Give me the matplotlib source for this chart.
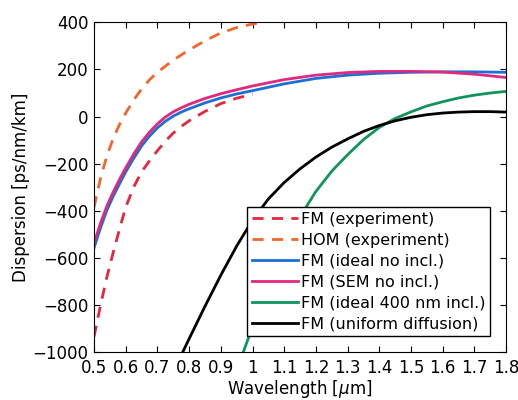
import numpy as np
import matplotlib.pyplot as plt

# wavelength [um] / dispersion [ps/nm/km]
wl_fm_exp = [0.5, 0.52, 0.54, 0.56, 0.58, 0.6, 0.625, 0.65, 0.675, 0.7, 0.725,
             0.75, 0.775, 0.8, 0.85, 0.9, 0.95, 1.0]
d_fm_exp = [-935, -805, -685, -580, -480, -385, -300, -235, -188, -145, -105,
            -70, -42, -18, 22, 55, 78, 95]

wl_hom_exp = [0.5, 0.52, 0.54, 0.56, 0.58, 0.6, 0.625, 0.65, 0.675, 0.7, 0.75,
              0.8, 0.85, 0.9, 0.95, 1.0, 1.02]
d_hom_exp = [-385, -265, -170, -95, -35, 15, 70, 117, 156, 188, 240,
             283, 322, 355, 378, 393, 398]

wl_sim = [0.5, 0.52, 0.54, 0.56, 0.58, 0.6, 0.625, 0.65, 0.675, 0.7, 0.725,
          0.75, 0.775, 0.8, 0.85, 0.9, 0.95, 1.0, 1.1, 1.2, 1.3, 1.4, 1.5,
          1.6, 1.7, 1.8]
d_ideal = [-558, -475, -400, -340, -287, -235, -178, -125, -83, -48, -20,
           2, 19, 33, 58, 79, 96, 110, 139, 162, 176, 184, 188,
           190, 190, 188]
d_sem = [-537, -455, -382, -322, -268, -218, -160, -108, -66, -31, -2,
         20, 37, 52, 77, 97, 114, 130, 157, 176, 187, 192, 192,
         189, 180, 166]

wl_incl = [0.971, 1.0, 1.05, 1.1, 1.15, 1.2, 1.25, 1.3, 1.35, 1.4, 1.45,
           1.5, 1.55, 1.6, 1.65, 1.7, 1.75, 1.8]
d_incl = [-1000, -893, -722, -565, -425, -318, -232, -162, -98, -46, -8,
          20, 45, 63, 79, 91, 100, 107]

wl_unif = [0.78, 0.8, 0.85, 0.9, 0.95, 1.0, 1.05, 1.1, 1.15, 1.2, 1.25, 1.3,
           1.35, 1.4, 1.45, 1.5, 1.55, 1.6, 1.65, 1.7, 1.75, 1.8]
d_unif = [-1000, -944, -806, -674, -550, -440, -350, -280, -222, -172, -130, -95,
          -63, -38, -18, -3, 8, 15, 19, 21, 21, 19]

xticks = [0.5, 0.6, 0.7, 0.8, 0.9, 1.0, 1.1, 1.2, 1.3, 1.4, 1.5, 1.6, 1.7, 1.8]
xticklabels = ['0.5', '0.6', '0.7', '0.8', '0.9', '1', '1.1', '1.2', '1.3',
               '1.4', '1.5', '1.6', '1.7', '1.8']
yticks = [-1000, -800, -600, -400, -200, 0, 200, 400]

plt.rcParams['font.family'] = 'DejaVu Sans'
fig = plt.figure(figsize=(5.18, 4.0), dpi=100)
ax = fig.add_axes([0.1815, 0.12, 0.7955, 0.824])

dash = (0, (4, 3))
ax.plot(wl_fm_exp, d_fm_exp, color='#e8253f', lw=2, linestyle=dash, label='FM (experiment)')
ax.plot(wl_hom_exp, d_hom_exp, color='#f5652a', lw=2, linestyle=dash, label='HOM (experiment)')
ax.plot(wl_sim, d_ideal, color='#1c6fd6', lw=2, label='FM (ideal no incl.)')
ax.plot(wl_sim, d_sem, color='#e0287f', lw=2, label='FM (SEM no incl.)')
ax.plot(wl_incl, d_incl, color='#12935c', lw=2, label='FM (ideal 400 nm incl.)')
ax.plot(wl_unif, d_unif, color='black', lw=2, label='FM (uniform diffusion)')

ax.set_xlim(0.5, 1.8)
ax.set_ylim(-1000, 400)
ax.set_xticks(xticks)
ax.set_xticklabels(xticklabels)
ax.set_yticks(yticks)
ax.tick_params(direction='in', top=True, right=True, labelsize=12, length=4)
ax.tick_params(axis='x', pad=5)
ax.tick_params(axis='y', pad=4)
ax.set_xlabel(r'Wavelength [$\mu$m]', fontsize=12, labelpad=1)
ax.set_ylabel('Dispersion [ps/nm/km]', fontsize=12, labelpad=2)

leg = ax.legend(loc='lower right', fontsize=11.5, frameon=True, fancybox=False,
                edgecolor='black', framealpha=1, handlelength=2.9,
                handletextpad=0.15, borderpad=0.3, labelspacing=0.37,
                borderaxespad=1.0)
leg.get_frame().set_linewidth(1)

fig.savefig('out.png', dpi=100)
